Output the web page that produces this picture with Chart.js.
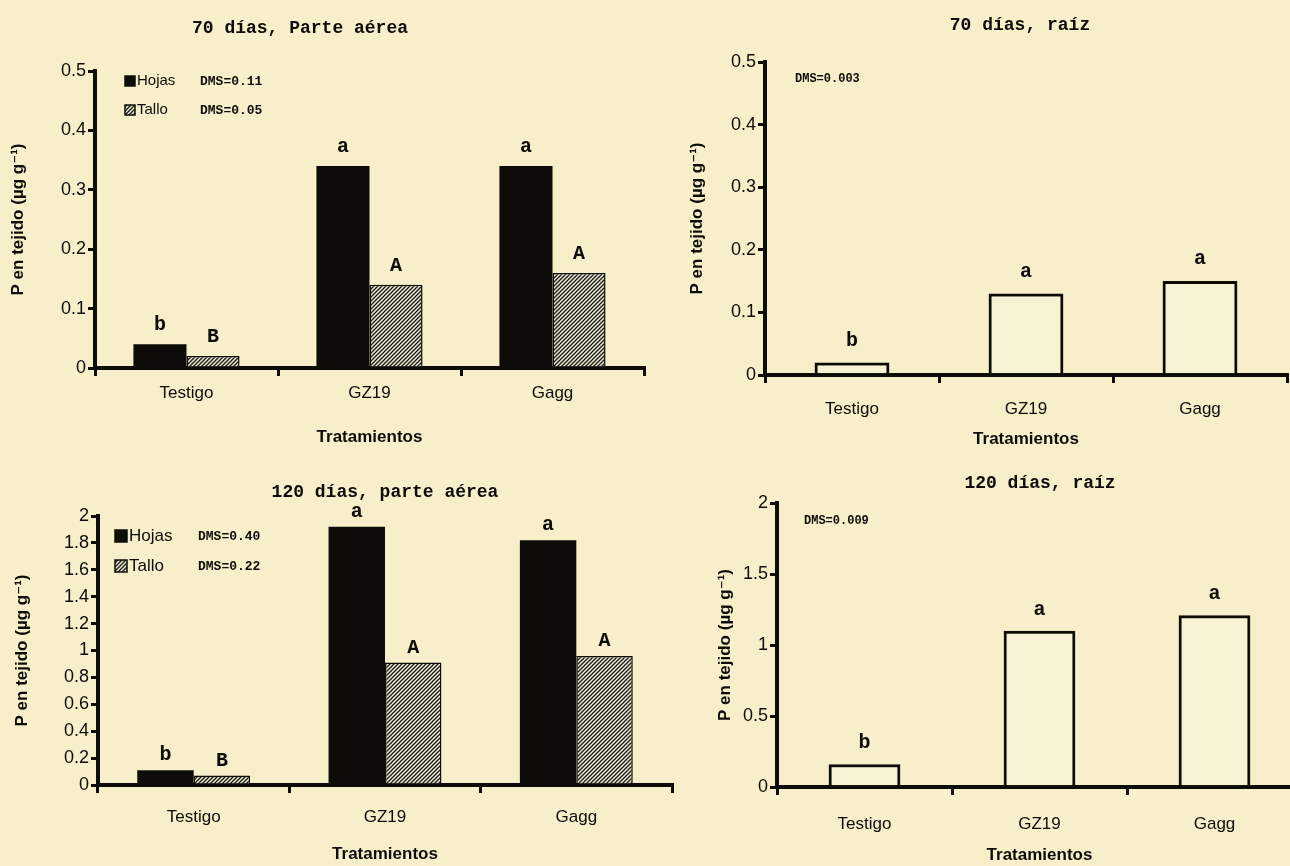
<!DOCTYPE html>
<html>
<head>
<meta charset="utf-8">
<script src="https://cdn.jsdelivr.net/npm/chart.js@4.4.1/dist/chart.umd.min.js"></script>
<style>
  html, body { margin: 0; padding: 0; width: 1290px; height: 866px; overflow: hidden; background: #f6efca; }
  canvas { position: absolute; }
</style>
</head>
<body>
<canvas id="p1"></canvas>
<canvas id="p2"></canvas>
<canvas id="p3"></canvas>
<canvas id="p4"></canvas>
<script>
// ==========================================
// Data
// ==========================================
const categories = ['Testigo', 'GZ19', 'Gagg'];

const hojas70 = [0.04, 0.34, 0.34];
const tallo70 = [0.02, 0.14, 0.16];
const raiz70 = [0.02, 0.13, 0.15];

const hojas120 = [0.11, 1.92, 1.82];
const tallo120 = [0.07, 0.91, 0.96];
const raiz120 = [0.16, 1.10, 1.21];

// letters from the mean comparison test
const letrasHojas70 = ['b', 'a', 'a'];
const letrasTallo70 = ['B', 'A', 'A'];
const letrasRaiz70 = ['b', 'a', 'a'];
const letrasHojas120 = ['b', 'a', 'a'];
const letrasTallo120 = ['B', 'A', 'A'];
const letrasRaiz120 = ['b', 'a', 'a'];

const dmsAerea70 = ['DMS=0.11', 'DMS=0.05'];
const dmsRaiz70 = ['DMS=0.003'];
const dmsAerea120 = ['DMS=0.40', 'DMS=0.22'];
const dmsRaiz120 = ['DMS=0.009'];

const ticks70 = [0, 0.1, 0.2, 0.3, 0.4, 0.5];
const ticksAerea120 = [0, 0.2, 0.4, 0.6, 0.8, 1, 1.2, 1.4, 1.6, 1.8, 2];
const ticksRaiz120 = [0, 0.5, 1, 1.5, 2];

const yLabel = 'P en tejido (\u00b5g g\u207b\u00b9)';
const xLabel = 'Tratamientos';

// ==========================================
// Styles
// ==========================================
const SANS = "'Liberation Sans', Arial, 'DejaVu Sans', sans-serif";
const MONO = "'Liberation Mono', 'Courier New', monospace";
const INK = '#0e0c09';

function makeHatch(ctx) {
  const c = document.createElement('canvas');
  c.width = 4; c.height = 4;
  const g = c.getContext('2d');
  g.fillStyle = '#efead6';
  g.fillRect(0, 0, 4, 4);
  g.strokeStyle = '#1a1814';
  g.lineWidth = 1.3;
  g.beginPath();
  g.moveTo(0, 4); g.lineTo(4, 0);
  g.moveTo(-1, 1); g.lineTo(1, -1);
  g.moveTo(3, 5); g.lineTo(5, 3);
  g.stroke();
  return ctx.createPattern(c, 'repeat');
}

// ==========================================
// Panel layout
// ==========================================
const panels = [
  {
    id: 'p1', left: 0, top: 0, width: 650, height: 450,
    padTop: 71, padRight: 6, yWidth: 95, xHeight: 82,
    yTitlePad: 8, xTickPad: 7, xTitlePad: 2,
    title: '70 d\u00edas, Parte a\u00e9rea', titleX: 300, titleY: 28,
    yTicks: ticks70, letterOffset: 19, catPct: 0.58,
    series: [
      { label: 'Hojas', data: hojas70, letters: letrasHojas70, kind: 'solid' },
      { label: 'Tallo', data: tallo70, letters: letrasTallo70, kind: 'hatch' }
    ],
    dms: dmsAerea70,
    legend: { dx: 30, dy: 10, gap: 29, box: 10, size: 15, dmsDx: 75 }
  },
  {
    id: 'p2', left: 650, top: 0, width: 640, height: 450,
    padTop: 62, padRight: 3, yWidth: 115, xHeight: 75,
    yTitlePad: 37, xTickPad: 16, xTitlePad: 0,
    title: '70 d\u00edas, ra\u00edz', titleX: 370, titleY: 25,
    yTicks: ticks70, letterOffset: 22, catPct: 0.43,
    series: [
      { label: 'Ra\u00edz', data: raiz70, letters: letrasRaiz70, kind: 'open' }
    ],
    dms: dmsRaiz70,
    legend: { dx: 30, dy: 16, gap: 0, box: 0, size: 12, dmsDx: 0 }
  },
  {
    id: 'p3', left: 0, top: 450, width: 680, height: 416,
    padTop: 66, padRight: 8, yWidth: 98, xHeight: 81,
    yTitlePad: 12, xTickPad: 14, xTitlePad: 1,
    title: '120 d\u00edas, parte a\u00e9rea', titleX: 385, titleY: 42,
    yTicks: ticksAerea120, letterOffset: 15, catPct: 0.59,
    series: [
      { label: 'Hojas', data: hojas120, letters: letrasHojas120, kind: 'solid' },
      { label: 'Tallo', data: tallo120, letters: letrasTallo120, kind: 'hatch' }
    ],
    dms: dmsAerea120,
    legend: { dx: 17, dy: 20, gap: 30, box: 12, size: 17, dmsDx: 83 }
  },
  {
    id: 'p4', left: 650, top: 450, width: 660, height: 416,
    padTop: 53, padRight: 8, yWidth: 127, xHeight: 79,
    yTitlePad: 65, xTickPad: 19, xTitlePad: 0,
    title: '120 d\u00edas, ra\u00edz', titleX: 390, titleY: 33,
    yTicks: ticksRaiz120, letterOffset: 21, catPct: 0.41,
    series: [
      { label: 'Ra\u00edz', data: raiz120, letters: letrasRaiz120, kind: 'open' }
    ],
    dms: dmsRaiz120,
    legend: { dx: 27, dy: 17, gap: 0, box: 0, size: 12, dmsDx: 0 }
  }
];

// ==========================================
// Plugins: panel title, letters above bars, legend with DMS
// ==========================================
const panelDecor = {
  id: 'panelDecor',
  afterDatasetsDraw(chart) {
    const p = chart.options.plugins.panelDecor;
    const ctx = chart.ctx;
    ctx.save();
    ctx.fillStyle = INK;
    ctx.textAlign = 'center';
    ctx.textBaseline = 'middle';
    ctx.font = `bold 20px ${MONO}`;
    chart.data.datasets.forEach((ds, i) => {
      const meta = chart.getDatasetMeta(i);
      meta.data.forEach((bar, j) => {
        ctx.fillText(ds.letters[j], bar.x, bar.y - p.letterOffset);
      });
    });
    ctx.restore();
  },
  afterDraw(chart) {
    const p = chart.options.plugins.panelDecor;
    const ctx = chart.ctx;
    const area = chart.chartArea;
    ctx.save();
    ctx.fillStyle = INK;
    ctx.textBaseline = 'middle';

    // title
    ctx.textAlign = 'center';
    ctx.font = `bold 18px ${MONO}`;
    ctx.fillText(p.title, p.titleX, p.titleY);

    // legend and DMS
    const lg = p.legend;
    ctx.textAlign = 'left';
    p.dms.forEach((txt, k) => {
      const x = area.left + lg.dx;
      const y = area.top + lg.dy + k * lg.gap;
      if (lg.box > 0) {
        const ds = chart.data.datasets[k];
        ctx.fillStyle = ds.backgroundColor;
        ctx.fillRect(x, y - lg.box / 2, lg.box, lg.box);
        ctx.strokeStyle = INK;
        ctx.lineWidth = 1.5;
        ctx.strokeRect(x, y - lg.box / 2, lg.box, lg.box);
        ctx.fillStyle = INK;
        ctx.font = `${lg.size}px ${SANS}`;
        ctx.fillText(ds.label, x + lg.box + 2, y);
      }
      ctx.font = lg.box === 0 ? `bold 12px ${MONO}` : `bold 13px ${MONO}`;
      ctx.fillText(txt, x + lg.dmsDx, y + 1);
    });
    ctx.restore();
  }
};

// ==========================================
// Chart construction
// ==========================================
panels.forEach(p => {
  const canvas = document.getElementById(p.id);
  canvas.width = p.width;
  canvas.height = p.height;
  canvas.style.left = p.left + 'px';
  canvas.style.top = p.top + 'px';
  canvas.style.width = p.width + 'px';
  canvas.style.height = p.height + 'px';
  const ctx = canvas.getContext('2d');
  const hatch = makeHatch(ctx);

  const datasets = p.series.map(s => ({
    label: s.label,
    data: s.data,
    letters: s.letters,
    backgroundColor: s.kind === 'solid' ? INK : (s.kind === 'hatch' ? hatch : 'rgba(255,255,250,0.2)'),
    borderColor: INK,
    borderWidth: s.kind === 'solid' ? 0 : (s.kind === 'hatch' ? 1.5 : 3),
    borderSkipped: 'start',
    categoryPercentage: p.catPct,
    barPercentage: 1
  }));

  const yMax = p.yTicks[p.yTicks.length - 1];

  new Chart(ctx, {
    type: 'bar',
    data: { labels: categories, datasets },
    options: {
      responsive: false,
      animation: false,
      devicePixelRatio: 1,
      layout: { padding: { top: p.padTop, right: p.padRight, left: 0, bottom: 0 } },
      plugins: {
        legend: { display: false },
        tooltip: { enabled: false },
        title: { display: false },
        panelDecor: p
      },
      scales: {
        x: {
          afterFit: scale => { scale.height = p.xHeight; },
          grid: { display: true, offset: true, drawOnChartArea: false, drawTicks: true, tickLength: 8, lineWidth: 3, color: INK },
          border: { display: true, width: 4, color: INK },
          ticks: { color: INK, padding: p.xTickPad, font: { family: SANS, size: 17 }, maxRotation: 0 },
          title: { display: true, text: xLabel, color: INK, padding: { top: 0, bottom: p.xTitlePad }, font: { family: SANS, size: 17, weight: 'bold' } }
        },
        y: {
          min: 0,
          max: yMax,
          afterFit: scale => { scale.width = p.yWidth; },
          afterBuildTicks: scale => { scale.ticks = p.yTicks.map(v => ({ value: v })); },
          grid: { display: true, drawOnChartArea: false, drawTicks: true, tickLength: 7, lineWidth: 3, color: INK },
          border: { display: true, width: 4, color: INK },
          ticks: {
            color: INK, padding: 2, font: { family: SANS, size: 18 },
            callback: v => String(+Number(v).toFixed(2))
          },
          title: { display: true, text: yLabel, color: INK, padding: { top: p.yTitlePad, bottom: 0 }, font: { family: SANS, size: 17, weight: 'bold' } }
        }
      }
    },
    plugins: [panelDecor]
  });
});
</script>
</body>
</html>
